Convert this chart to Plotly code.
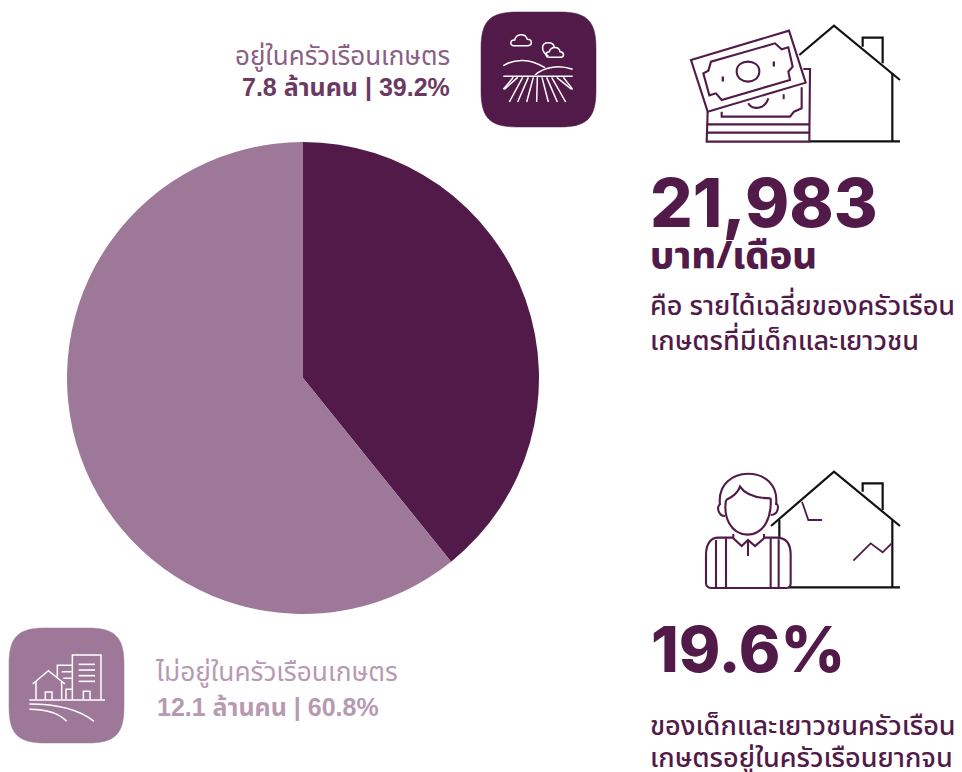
import re
import plotly.graph_objects as go

W, H = 962, 772
DARK = "#521a48"
LIGHT = "#9e7898"
BLACK = "#111111"

categories = ["อยู่ในครัวเรือนเกษตร", "ไม่อยู่ในครัวเรือนเกษตร"]
shares = [39.2, 60.8]
people = ["7.8 ล้านคน | 39.2%", "12.1 ล้านคน | 60.8%"]
slice_colors = [DARK, LIGHT]
income_value = "21,983"
income_unit = "บาท/เดือน"
income_note = ["คือ รายได้เฉลี่ยของครัวเรือน", "เกษตรที่มีเด็กและเยาวชน"]
poverty_value = "19.6%"
poverty_note = ["ของเด็กและเยาวชนครัวเรือน", "เกษตรอยู่ในครัวเรือนยากจน"]

THAI = "Noto Sans Thai, Loma, Tahoma, Liberation Sans, DejaVu Sans, sans-serif"
LABEL = "Liberation Sans, Noto Sans Thai, sans-serif"
HEAVY = "Inter, Noto Sans, sans-serif"

fig = go.Figure(go.Pie(
    labels=categories, values=shares, sort=False, direction="clockwise", rotation=0,
    marker=dict(colors=slice_colors, line=dict(width=0)), textinfo="none", showlegend=False,
    domain=dict(x=[67 / W, 539 / W], y=[1 - 614 / H, 1 - 142 / H]),
))

def conv(path, ox, oy, s):
    """Path given in crop coordinates -> paper coordinates."""
    isx = True
    def rep(m):
        nonlocal isx
        v = float(m.group())
        r = (ox + v / s) / W if isx else 1 - (oy + v / s) / H
        isx = not isx
        return f"{r:.5f}"
    return re.sub(r"-?\d+\.?\d*", rep, path)

shapes = []
def add(path, ox=0, oy=0, s=1, color=DARK, width=1.6, fill=None):
    shapes.append(dict(type="path", xref="paper", yref="paper", path=conv(path, ox, oy, s),
                       line=dict(color=color, width=width), fillcolor=fill or "rgba(0,0,0,0)"))

def rbox(x0, y0, x1, y1, fill):
    c = 36
    add(f"M{x0+c} {y0} L{x1-c} {y0} C{x1-9} {y0} {x1} {y0+9} {x1} {y0+c} L{x1} {y1-c} "
        f"C{x1} {y1-9} {x1-9} {y1} {x1-c} {y1} L{x0+c} {y1} C{x0+9} {y1} {x0} {y1-9} {x0} {y1-c} "
        f"L{x0} {y0+c} C{x0} {y0+9} {x0+9} {y0} {x0+c} {y0} Z", color=fill, width=0.5, fill=fill)

# farm icon
rbox(481, 12, 596, 127, DARK)
F = dict(ox=220, oy=0, s=3, color="white", width=1.5)
add("M882 137 C868 137 870 118 884 120 C888 100 916 98 922 118 C938 118 938 137 922 137 Z", **F)
add("M985 168 C962 155 962 128 985 128 C995 128 1002 134 1003 142", **F)
add("M988 172 C975 172 975 155 988 155 C992 138 1018 138 1020 155 C1034 156 1034 172 1020 172 Z", **F)
add("M850 197 C885 175 930 175 975 203", **F)
add("M945 225 C975 198 1020 195 1058 208", **F)
add("M850 229 L1058 229", **F)
for x0, x1 in [(880, 850), (893, 853), (908, 868), (925, 893), (940, 920), (952, 950),
               (966, 985), (980, 1012), (995, 1037), (1010, 1055), (1030, 1058)]:
    y1 = 306 if 860 < x1 < 1045 else 268
    add(f"M{x0} 232 L{x1} {y1}", **F)

# town icon
rbox(9, 628, 124, 743, LIGHT)
T = dict(ox=0, oy=620, s=3, color="white", width=1.5)
add("M88 240 L315 240", **T)
add("M88 252 C150 252 230 262 282 304", **T)
add("M88 268 C130 268 175 278 200 304", **T)
add("M98 192 L145 152 L195 192", **T)
add("M108 183 L108 238 M185 183 L185 238", **T)
add("M136 238 L136 216 L156 216 L156 238", **T)
add("M172 170 L172 136 L217 136", **T)
add("M198 238 L198 208 L217 208", **T)
add("M217 238 L217 105 L303 105 L303 238", **T)
add("M250 238 L250 214 L270 214 L270 238", **T)
for yy in (133, 150, 167, 184):
    add(f"M236 {yy} L285 {yy}", ox=0, oy=620, s=3, color="white", width=1.6)
add("M185 155 L215 155 M190 175 L215 175", **T)

# money + house icon
Z = dict(ox=640, oy=10, s=3)
K = dict(color=BLACK, width=2.2, **Z)
P = dict(color=DARK, width=2.1, **Z)
add("M478 135 L582 47 L780 210", **K)
add("M668 110 L668 83 L728 83 L728 160", **K)
add("M757 190 L757 393 M510 394 L780 394", **K)
add("M153 150 L447 62 L497 218 L203 305 Z", **P)
add("M190 190 L205 182 L213 155 L405 100 L425 118 L445 112 L458 170 L445 185 L450 210 L245 270 L228 250 L208 256 Z", **P)
add("M290 184 C290 145 358 145 358 184 C358 225 290 225 290 184 Z", **P)
add("M245 207 L252 207 M398 162 L405 162", color=DARK, width=5, **Z)
add("M203 305 L200 395 L508 395 L510 177 L490 177", **P)
add("M200 343 L508 343 M200 368 L508 368", **P)
add("M245 305 L245 320 L450 320 L462 305 L485 295 L485 232", **P)
add("M325 280 C335 300 375 300 385 265", **P)
add("M428 260 L434 260", color=DARK, width=5, **Z)

# child + broken house icon
Z2 = dict(ox=640, oy=460, s=3)
K2 = dict(color=BLACK, width=2.2, **Z2)
P2 = dict(color=DARK, width=2.1, **Z2)
add("M393 198 L582 35 L780 198", **K2)
add("M668 95 L668 70 L728 70 L728 150", **K2)
add("M418 180 L418 235 M757 180 L757 382 M445 382 L780 382", **K2)
add("M486 125 L505 180 L546 180", color=DARK, width=1.8, **Z2)
add("M640 302 L692 250 L728 277 L755 250", color=DARK, width=1.8, **Z2)
add("M240 135 C225 10 425 10 408 135", **P2)
add("M240 135 C230 135 232 168 255 168 M408 130 C418 135 416 165 392 165", **P2)
add("M258 120 C280 110 295 95 300 80 C320 110 360 115 392 115", **P2)
add("M258 120 C250 170 270 222 322 224 C375 222 395 170 392 115", **P2)
add("M280 222 L280 235 L305 258 L324 240 L345 258 L372 235 L372 222", **P2)
add("M324 240 L324 288", **P2)
add("M280 233 L235 233 C210 233 198 255 198 285 L198 370 C198 378 205 384 215 384 L440 384 "
    "C448 384 452 378 452 370 L452 285 C452 255 440 233 410 233 L372 233", **P2)
add("M228 240 L228 384 M258 235 L258 384 M392 235 L392 384 M416 238 L416 384", **P2)

annotations = []
def text(s, x, y, size, color, anchor="left", family=THAI, weight=400):
    annotations.append(dict(text=s, x=x / W, y=1 - y / H, xref="paper", yref="paper",
                            xanchor=anchor, yanchor="middle", showarrow=False,
                            font=dict(family=family, size=size, color=color, weight=weight)))

text(categories[0], 452, 57, 26, "#8a5f83", "right")
text(people[0], 452, 87, 25, "#6b3a62", "right", family=LABEL, weight=700)
text(categories[1], 153, 673, 26.3, "#b79ab2")
text(people[1], 155, 707, 25, "#b79ab2", family=LABEL, weight=700)
text(income_value, 648, 202, 67, DARK, family=HEAVY, weight=800)
text(income_unit, 648, 256, 38, DARK, weight=800)
text(income_note[0], 648, 306, 27, DARK, weight=500)
text(income_note[1], 648, 341, 27, DARK, weight=500)
text(poverty_value, 649, 649, 63, DARK, family=HEAVY, weight=800)
text(poverty_note[0], 648, 726, 27, DARK, weight=500)
text(poverty_note[1], 648, 758, 27, DARK, weight=500)

fig.update_layout(width=W, height=H, margin=dict(l=0, r=0, t=0, b=0), paper_bgcolor="white",
                  plot_bgcolor="white", shapes=shapes, annotations=annotations)
fig.write_html("out.html", config=dict(displayModeBar=False),
               post_script="document.body.style.margin='0';document.body.style.overflow='hidden';")
